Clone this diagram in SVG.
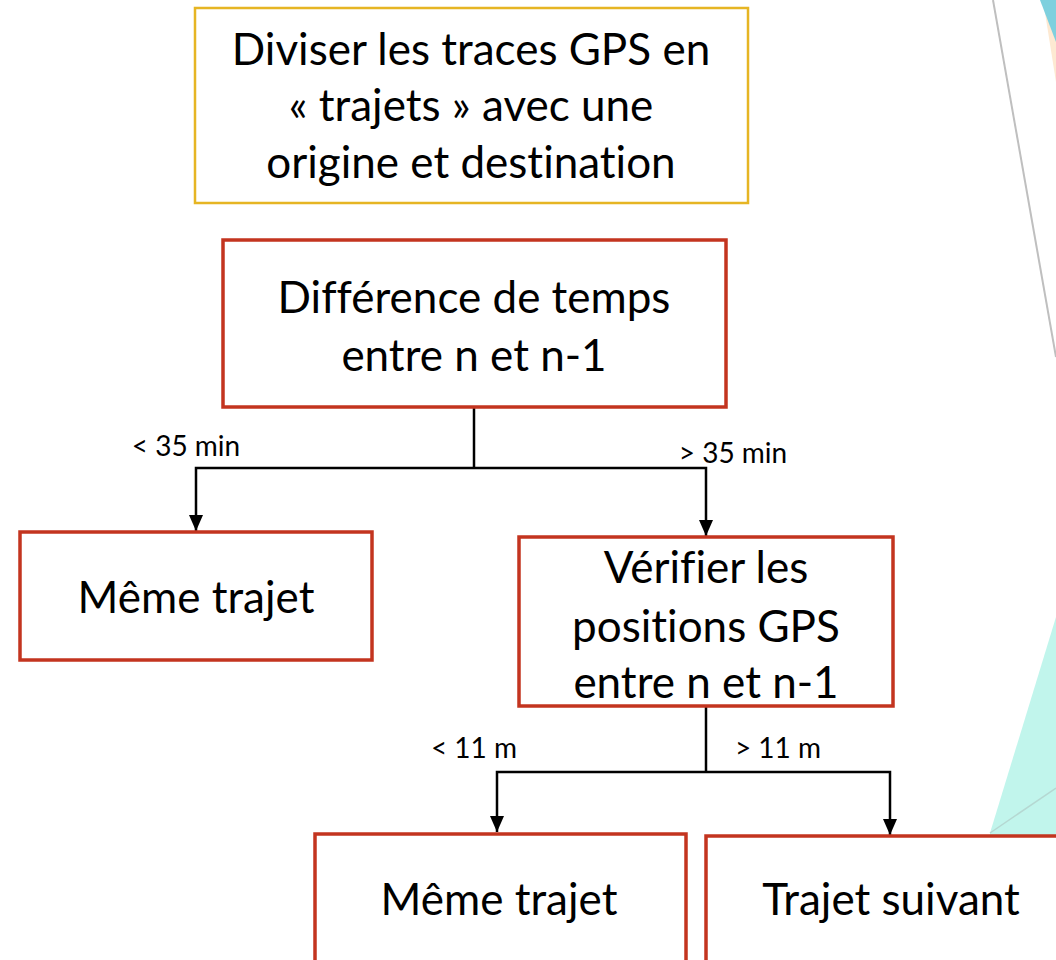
<svg xmlns="http://www.w3.org/2000/svg" width="1056" height="960" viewBox="0 0 1056 960">
<defs>
<style>
.t{font-family:Lato,"Open Sans",sans-serif;fill:#000;text-anchor:middle;font-variant-ligatures:none;font-feature-settings:"liga" 0,"dlig" 0}
.big{font-size:44px}
.lbl{font-size:28px}
.red{fill:#fff;stroke:#C3341F;stroke-width:3.5}
.yel{fill:#fff;stroke:#E6B523;stroke-width:2.5}
.con{fill:none;stroke:#000;stroke-width:2.5}
</style>
<marker id="ah" viewBox="0 0 16 14" refX="16" refY="7" markerWidth="16" markerHeight="14" markerUnits="userSpaceOnUse" orient="auto">
<path d="M0,0 L16,7 L0,14 Z" fill="#000"/>
</marker>
</defs>
<rect width="1056" height="960" fill="#fff"/>
<g id="decor">
<polygon points="1043,0 1056,0 1056,82" fill="#FDE9D2"/>
<polygon points="1040,0 1056,0 1056,42" fill="#7ED0DE"/>
<line x1="993" y1="0" x2="1056" y2="357" stroke="#BFBFBF" stroke-width="2"/>
<polygon points="1056,617 990,833 990,960 1056,960" fill="#C1F5EC"/>
<line x1="990" y1="833" x2="1056" y2="788" stroke="#B5D8D2" stroke-width="1.5"/>
</g>
<g id="connectors">
<path class="con" d="M474,407 V468"/>
<path class="con" d="M474,468 H196 V531" marker-end="url(#ah)"/>
<path class="con" d="M474,468 H706 V536" marker-end="url(#ah)"/>
<path class="con" d="M706,706 V772"/>
<path class="con" d="M706,772 H497 V832" marker-end="url(#ah)"/>
<path class="con" d="M706,772 H890 V835" marker-end="url(#ah)"/>
<text class="t lbl" x="186" y="456">&lt; 35 min</text>
<text class="t lbl" x="733" y="463">&gt; 35 min</text>
<text class="t lbl" x="474" y="758">&lt; 11 m</text>
<text class="t lbl" x="778" y="758">&gt; 11 m</text>
</g>
<g id="n1">
<rect class="yel" x="195" y="8" width="553" height="195"/>
<text class="t big" x="471" y="65">Diviser les traces GPS en</text>
<text class="t big" x="471" y="121">« trajets » avec une</text>
<text class="t big" x="471" y="178">origine et destination</text>
</g>
<g id="n2">
<rect class="red" x="223" y="240" width="503" height="167"/>
<text class="t big" x="474" y="313">Différence de temps</text>
<text class="t big" x="474" y="371">entre n et n-1</text>
</g>
<g id="n3">
<rect class="red" x="20" y="532" width="352" height="128"/>
<text class="t big" x="196" y="613">Même trajet</text>
</g>
<g id="n4">
<rect class="red" x="519" y="537" width="374" height="169"/>
<text class="t big" x="706" y="583">Vérifier les</text>
<text class="t big" x="706" y="642">positions GPS</text>
<text class="t big" x="706" y="698">entre n et n-1</text>
</g>
<g id="n5">
<rect class="red" x="315" y="834" width="371" height="140"/>
<text class="t big" x="499" y="915">Même trajet</text>
</g>
<g id="n6">
<rect class="red" x="706" y="836" width="370" height="140"/>
<text class="t big" x="891" y="915">Trajet suivant</text>
</g>
</svg>
